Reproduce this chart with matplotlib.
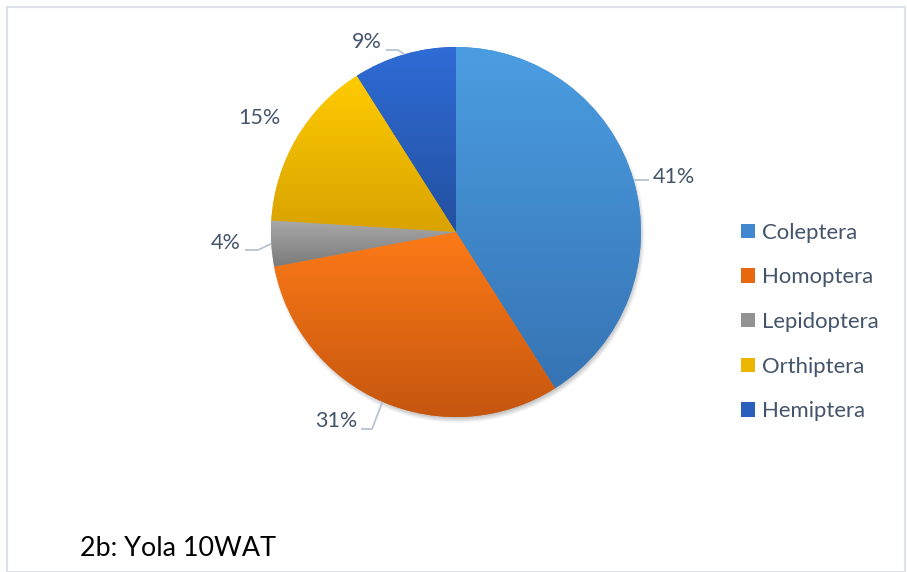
import numpy as np
import matplotlib
matplotlib.use("Agg")
import matplotlib.pyplot as plt
from matplotlib.patches import Rectangle, Patch
from matplotlib.colors import to_rgb

# ---- data ----
categories = ["Coleptera", "Homoptera", "Lepidoptera", "Orthiptera", "Hemiptera"]
values = [41, 31, 4, 15, 9]
pct_labels = ["41%", "31%", "4%", "15%", "9%"]
title_text = "2b: Yola 10WAT"

# ---- style ----
grad_top = ["#4b9de2", "#fd7a17", "#a9a9a9", "#ffcc00", "#2f6cd6"]
grad_bot = ["#3674b4", "#c5560f", "#7a7a7a", "#d9a200", "#2350a0"]
legend_col = ["#4288d0", "#e8680f", "#939393", "#ecb600", "#2a5fbe"]
text_col = "#44546a"
leader_col = "#b8c4d4"
FONT = "Lato"

W, H = 907, 572
fig = plt.figure(figsize=(W / 100, H / 100), dpi=100)
ax = fig.add_axes([0, 0, 1, 1])

cx, cy, R = 456, H - 232, 185

# shadow under pie
gx = np.linspace(cx - R - 20, cx + R + 20, 420)
gy = np.linspace(cy - R - 20, cy + R + 20, 420)
XX, YY = np.meshgrid(gx, gy)
d = np.hypot(XX - (cx + 1.5), YY - (cy - 3.5))
alpha = np.clip((R + 3 - d) / 7.0, 0, 1) * 0.45
shadow = np.zeros(XX.shape + (4,))
shadow[..., :3] = 0.35
shadow[..., 3] = alpha
ax.imshow(shadow, extent=(gx[0], gx[-1], gy[0], gy[-1]), origin="lower",
          zorder=0.5, interpolation="bilinear")

wedges, _ = ax.pie(values, center=(cx, cy), radius=R, startangle=90,
                   counterclock=False, colors=legend_col,
                   wedgeprops=dict(linewidth=0), frame=True)
for w in wedges:
    w.set_zorder(1)

# gradient fills clipped to wedges
for w, t, b in zip(wedges, grad_top, grad_bot):
    ext = w.get_path().get_extents()
    n = 256
    tt = np.linspace(0, 1, n)[:, None, None]
    grad = (1 - tt) * np.array(to_rgb(t))[None, None, :] + tt * np.array(to_rgb(b))[None, None, :]
    im = ax.imshow(grad, extent=(ext.x0, ext.x1, ext.y0, ext.y1), origin="upper",
                   aspect="auto", zorder=2, interpolation="bilinear")
    im.set_clip_path(w)

# percentage labels with leader lines
lab_style = [
    dict(tx=653, ty=177, ha="left", line=[(1.0, None), ("h", 649)]),
    dict(tx=357, ty=421, ha="right", line=[(1.0, None), ("p", 372, 429), ("h", 361)]),
    dict(tx=241, ty=243, ha="right", line=[(1.0, None), ("p", 258, 250), ("h", 245)]),
    dict(tx=281, ty=118, ha="right", line=None),
    dict(tx=382, ty=42, ha="right", line=[(1.0, None), ("p", 398, 50), ("h", 386)]),
]
cum = np.cumsum([0] + values)
tot = cum[-1]
for i, (lab, st) in enumerate(zip(pct_labels, lab_style)):
    mid = np.deg2rad(90 - 360 * (cum[i] + cum[i + 1]) / 2 / tot)
    ax.text(st["tx"], H - st["ty"], lab, ha=st["ha"], va="center",
            fontsize=15.5, color=text_col, family=FONT, zorder=5)
    if st["line"]:
        px = [cx + R * np.cos(mid)]
        py = [cy + R * np.sin(mid)]
        for seg in st["line"][1:]:
            if seg[0] == "p":
                px.append(seg[1]); py.append(H - seg[2])
            else:
                px.append(seg[1]); py.append(py[-1])
        ax.plot(px, py, color=leader_col, lw=1.3, zorder=4, solid_capstyle="butt")

# legend
handles = [Patch(facecolor=c, edgecolor="none") for c in legend_col]
leg = ax.legend(handles, categories, loc="center left",
                bbox_to_anchor=(741 / W, 1 - 322 / H),
                frameon=False, prop=dict(family=FONT, size=15.9),
                labelcolor=text_col, handlelength=0.63, handleheight=0.63,
                handletextpad=0.3, labelspacing=1.12, borderpad=0, borderaxespad=0)

# title
ax.text(80, H - 549, title_text, ha="left", va="center", fontsize=19.4,
        color="black", family=FONT)

# outer frame
fig.patches.append(Rectangle((6.5 / W, 0.5 / H), 898 / W, (H - 7) / H,
                             transform=fig.transFigure, fill=False,
                             edgecolor="#dde2ea", linewidth=1.5))

ax.set_xlim(0, W)
ax.set_ylim(0, H)
ax.set_aspect("equal")
ax.axis("off")
fig.savefig("out.png", dpi=100)
